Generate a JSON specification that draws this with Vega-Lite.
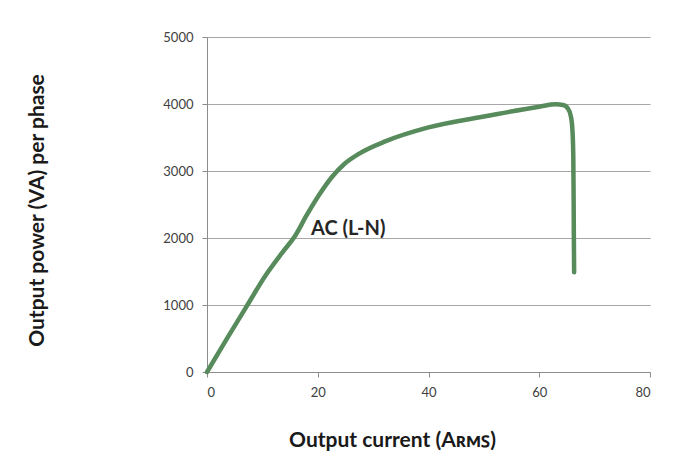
{
  "$schema": "https://vega.github.io/schema/vega-lite/v6.json",
  "width": 443,
  "height": 335,
  "autosize": "none",
  "padding": {"left": 207, "top": 37, "right": 33, "bottom": 93},
  "background": "white",
  "config": {"view": {"stroke": null}, "font": "Lato"},
  "datasets": {
    "curve": [
      {"i": 0, "current": 0, "power": 0},
      {"i": 1, "current": 3.6, "power": 498},
      {"i": 2, "current": 7.3, "power": 1000},
      {"i": 3, "current": 10.6, "power": 1445},
      {"i": 4, "current": 13.7, "power": 1794},
      {"i": 5, "current": 15.9, "power": 2030},
      {"i": 6, "current": 18.0, "power": 2340},
      {"i": 7, "current": 20.2, "power": 2638},
      {"i": 8, "current": 22.6, "power": 2915},
      {"i": 9, "current": 24.8, "power": 3105},
      {"i": 10, "current": 27.5, "power": 3260},
      {"i": 11, "current": 32.3, "power": 3445},
      {"i": 12, "current": 40, "power": 3650},
      {"i": 13, "current": 50.8, "power": 3825},
      {"i": 14, "current": 60, "power": 3960},
      {"i": 15, "current": 63.0, "power": 3995},
      {"i": 16, "current": 64.3, "power": 3985},
      {"i": 17, "current": 65.2, "power": 3930},
      {"i": 18, "current": 65.7, "power": 3820},
      {"i": 19, "current": 66.0, "power": 3600},
      {"i": 20, "current": 66.15, "power": 3200},
      {"i": 21, "current": 66.2, "power": 2700},
      {"i": 22, "current": 66.25, "power": 2010},
      {"i": 23, "current": 66.3, "power": 1490}
    ],
    "label": [{"current": 25.5, "power": 2134, "text": "AC (L-N)"}]
  },
  "layer": [
    {
      "data": {"name": "curve"},
      "mark": {"type": "line", "interpolate": "monotone", "color": "#578b5c", "strokeWidth": 4.5, "strokeCap": "round", "strokeJoin": "round"},
      "encoding": {
        "x": {"field": "current", "type": "quantitative", "scale": {"domain": [0, 80], "nice": false},
          "axis": {"values": [0, 20, 40, 60, 80], "format": "d", "title": "Output current (Aʀᴍꜱ)", "grid": false,
            "domainColor": "#8c8c8c", "tickColor": "#8c8c8c", "tickSize": 5, "labelFontSize": 13, "labelColor": "#404040", "labelPadding": 9,
            "titleFontSize": 21, "titleFontWeight": "bold", "titleColor": "#1a1a1a", "titleX": 185, "titleY": 68, "titleBaseline": "middle"}},
        "y": {"field": "power", "type": "quantitative", "scale": {"domain": [0, 5000], "nice": false},
          "axis": {"values": [0, 1000, 2000, 3000, 4000, 5000], "format": "d", "title": "Output power (VA) per phase",
            "gridColor": "#a6a6a6", "gridWidth": 1, "domainColor": "#8c8c8c", "tickColor": "#8c8c8c", "tickSize": 5, "labelFontSize": 13, "labelColor": "#404040", "labelPadding": 9,
            "titleFontSize": 21, "titleFontWeight": "bold", "titleColor": "#1a1a1a", "titleX": -170, "titleY": 173, "titleBaseline": "middle"}},
        "order": {"field": "i", "type": "quantitative"}
      }
    },
    {
      "data": {"name": "label"},
      "mark": {"type": "text", "fontSize": 20, "fontWeight": "bold", "color": "#262626", "align": "center", "baseline": "middle"},
      "encoding": {
        "x": {"field": "current", "type": "quantitative"},
        "y": {"field": "power", "type": "quantitative"},
        "text": {"field": "text"}
      }
    }
  ]
}
